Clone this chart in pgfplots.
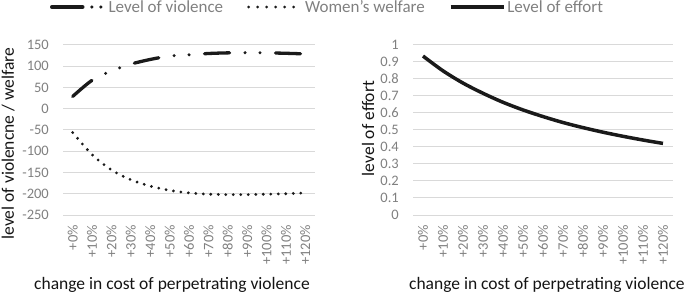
\documentclass[border=0pt]{standalone}
\usepackage{fontspec}
\setmainfont{Carlito}
\usepackage{pgfplots}
\usepackage{pgfplotstable}
\pgfplotsset{compat=1.18}
\definecolor{gridgray}{RGB}{217,217,217}
\definecolor{tickgray}{RGB}{128,128,128}
\definecolor{linecol}{RGB}{26,26,26}
\definecolor{titlecol}{RGB}{20,20,20}

\pgfplotstableread{
x violence welfare
0 29 -56
1 67 -108
2 89 -144
3 105 -167
4 116 -182
5 124 -192
6 127 -198
7 130 -201
8 131.5 -202
9 132 -202
10 131.5 -201
11 130.5 -200
12 129 -198
}\leftdata

\pgfplotstableread{
x effort
0 0.935
1 0.848
2 0.776
3 0.716
4 0.663
5 0.618
6 0.579
7 0.544
8 0.514
9 0.487
10 0.463
11 0.441
12 0.421
}\rightdata

\pgfplotsset{
  mystyle/.style={
    scale only axis,
    height=170bp,
    xmin=-0.5, xmax=12.5,
    xtick={0,...,12},
    xticklabels={+0\%,+10\%,+20\%,+30\%,+40\%,+50\%,+60\%,+70\%,+80\%,+90\%,+100\%,+110\%,+120\%},
    axis line style={draw=none},
    major tick length=0pt,
    ymajorgrids,
    grid style={gridgray, line width=1bp},
    tick label style={font=\fontsize{14.5bp}{16bp}\selectfont, text=tickgray},
    /pgf/number format/assume math mode=true,
    xticklabel style={rotate=90, anchor=east, inner sep=0pt},
    xticklabel shift=10bp,
    yticklabel style={anchor=east, inner sep=0pt},
    yticklabel shift=14bp,
    label style={font=\fontsize{17.5bp}{20bp}\selectfont, text=titlecol},
  }
}

\begin{document}
\begin{tikzpicture}
\useasboundingbox (0,0) rectangle (685bp,293bp);

\begin{axis}[mystyle,
  at={(63bp,78bp)}, anchor=south west,
  width=252bp,
  ymin=-250, ymax=150,
  ytick={-250,-200,...,150},
  xlabel={change in cost of perpetrating violence},
  ylabel={level of violencne / welfare},
  xlabel style={at={(axis description cs:0.4325,-0.412)}, anchor=center},
  ylabel style={at={(axis description cs:-0.218,0.42)}, anchor=center, rotate=0},
  legend columns=3,
  legend style={draw=none, fill=none, at={(axis description cs:1.0496,1.2235)}, anchor=center,
    font=\fontsize{17bp}{19bp}\selectfont, text=tickgray,
    nodes={inner sep=2bp},
    /tikz/every even column/.append style={column sep=22bp}},
  legend image code/.code={\draw[#1] (0bp,0bp) -- (53bp,0bp);},
]
\addlegendimage{linecol, line width=3.5bp, line cap=round, dash pattern=on 31bp off 9bp on 0bp off 9bp on 0bp off 30bp}
\addlegendentry{Level of violence}
\addlegendimage{linecol, line width=3bp, line cap=round, dash pattern=on 0bp off 9bp}
\addlegendentry{Women's welfare}
\addlegendimage{linecol, line width=3.5bp}
\addlegendentry{Level of effort}

\addplot[forget plot, smooth, linecol, line width=3.3bp, line cap=round,
  dash pattern=on 25bp off 15.5bp on 0bp off 15bp on 0bp off 15.5bp] table[x=x, y=violence] {\leftdata};
\addplot[forget plot, smooth, linecol, line width=3.1bp, line cap=round,
  dash pattern=on 0bp off 7.5bp] table[x=x, y=welfare] {\leftdata};
\end{axis}

\begin{axis}[mystyle,
  at={(413bp,78bp)}, anchor=south west,
  width=260bp,
  ymin=0, ymax=1,
  ytick={0,0.1,...,1.0},
  xlabel={change in cost of perpetrating violence},
  ylabel={level of effort},
  xlabel style={at={(axis description cs:0.515,-0.412)}, anchor=center},
  ylabel style={at={(axis description cs:-0.173,0.509)}, anchor=center, rotate=0},
]
\addplot[smooth, linecol, line width=3.5bp] table[x=x, y=effort] {\rightdata};
\end{axis}
\end{tikzpicture}
\end{document}
